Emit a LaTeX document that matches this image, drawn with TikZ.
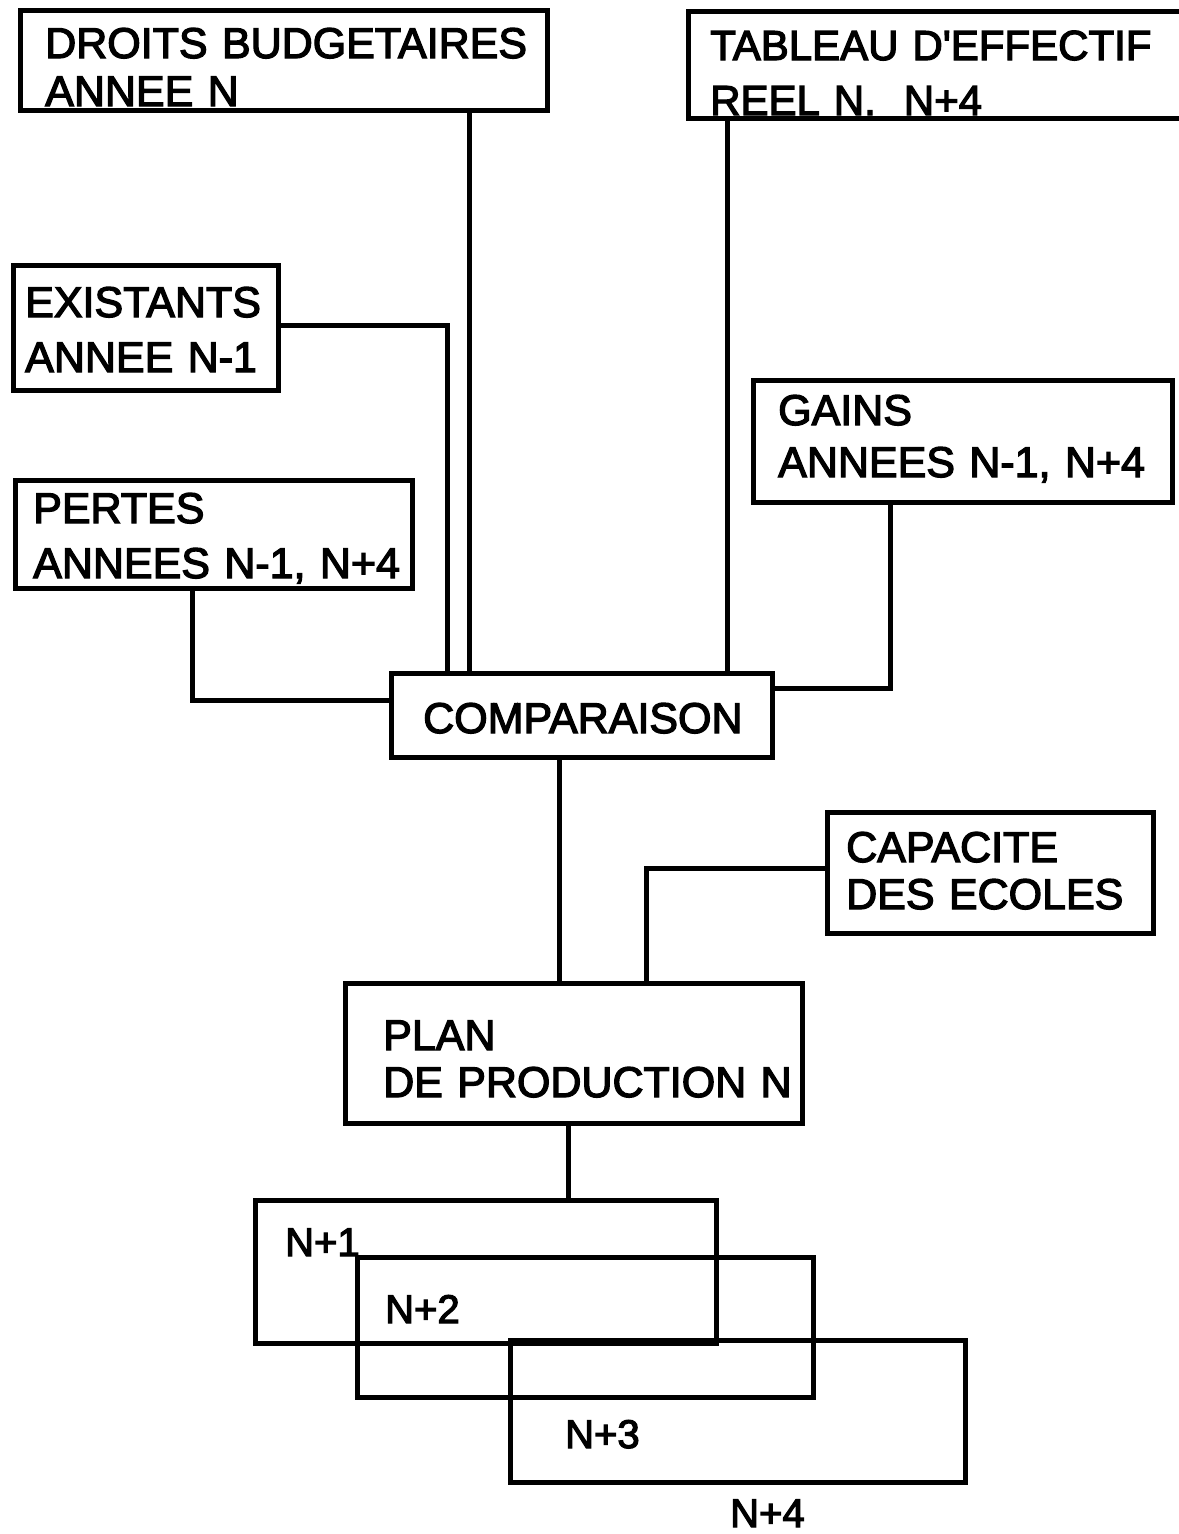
\documentclass[tikz,border=0pt]{standalone}
\usepackage{fontspec}
\setmainfont{Liberation Sans}
\newfontfamily\thickfont{Liberation Sans}[RawFeature={embolden=3}]
\begin{document}
\begin{tikzpicture}[x=1pt,y=-1pt,
  box/.style={draw, line width=5pt, inner sep=0pt, outer sep=0pt, rectangle},
  txt/.style={inner sep=0pt, anchor=base west, align=left, text width=700pt},
  conn/.style={line width=5pt}]
\useasboundingbox[fill=white] (0,0) rectangle (1178,1534);
% boxes
\node[box, minimum width=527, minimum height=100] (droits) at (283.5,60) {};
\node[box, minimum width=512, minimum height=107] (tab) at (944,64.5) {};
\node[box, minimum width=265, minimum height=125] (exist) at (145.5,327.5) {};
\node[box, minimum width=397, minimum height=108] (pertes) at (213.5,534) {};
\node[box, minimum width=419, minimum height=122] (gains) at (962.5,441) {};
\node[box, minimum width=381, minimum height=84] (comp) at (581.5,715) {};
\node[box, minimum width=326, minimum height=121] (capa) at (990,872.5) {};
\node[box, minimum width=457, minimum height=140] (plan) at (573.5,1053) {};
\node[box, minimum width=461, minimum height=143] (n1) at (485.5,1271.5) {};
\node[box, minimum width=456, minimum height=140] (n2) at (585,1327) {};
\node[box, minimum width=455, minimum height=142] (n3) at (737.5,1411) {};
% texts
\node[txt, font=\thickfont\fontsize{43}{48}\selectfont] (droitsT) at (45,58) {DROITS BUDGETAIRES\\ANNEE N};
\node[txt, font=\thickfont\fontsize{42}{55}\selectfont] (tabT) at (710,60) {TABLEAU D\textquotesingle EFFECTIF\\REEL N.\ \ N+4};
\node[txt, font=\thickfont\fontsize{43}{55}\selectfont] (existT) at (25,317) {EXISTANTS\\ANNEE N-1};
\node[txt, font=\thickfont\fontsize{43}{55}\selectfont] (pertesT) at (33,523) {PERTES\\ANNEES N-1, N+4};
\node[txt, font=\thickfont\fontsize{43}{52}\selectfont] (gainsT) at (778,425) {GAINS\\ANNEES N-1, N+4};
\node[txt, font=\thickfont\fontsize{43}{48}\selectfont] (compT) at (423,733) {COMPARAISON};
\node[txt, font=\thickfont\fontsize{43}{47}\selectfont] (capaT) at (846,862) {CAPACITE\\DES ECOLES};
\node[txt, font=\thickfont\fontsize{43}{47}\selectfont] (planT) at (383,1050) {PLAN\\DE PRODUCTION N};
\node[txt, font=\thickfont\fontsize{40}{48}\selectfont] (n1T) at (285,1256) {N+1};
\node[txt, font=\thickfont\fontsize{40}{48}\selectfont] (n2T) at (385,1323) {N+2};
\node[txt, font=\thickfont\fontsize{40}{48}\selectfont] (n3T) at (565,1448) {N+3};
\node[txt, font=\thickfont\fontsize{40}{48}\selectfont] (n4T) at (730,1527) {N+4};
% connector positions
\coordinate (xD) at (469,0);
\coordinate (xT) at (727,0);
\coordinate (xE) at (447,0);
\coordinate (xP) at (192,0);
\coordinate (xG) at (890,0);
\coordinate (xC) at (559,0);
\coordinate (xK) at (646,0);
\coordinate (xL) at (568,0);
\coordinate (yE) at (0,325);
\coordinate (yP) at (0,700);
\coordinate (yG) at (0,688);
\coordinate (yK) at (0,868);
% connectors
\draw[conn] (droits.south -| xD) -- (comp.north -| xD);
\draw[conn] (tab.south -| xT) -- (comp.north -| xT);
\draw[conn] (exist.east |- yE) -| (comp.north -| xE);
\draw[conn] (pertes.south -| xP) |- (comp.west |- yP);
\draw[conn] (gains.south -| xG) |- (comp.east |- yG);
\draw[conn] (comp.south -| xC) -- (plan.north -| xC);
\draw[conn] (capa.west |- yK) -| (plan.north -| xK);
\draw[conn] (plan.south -| xL) -- (n1.north -| xL);
\end{tikzpicture}
\end{document}
